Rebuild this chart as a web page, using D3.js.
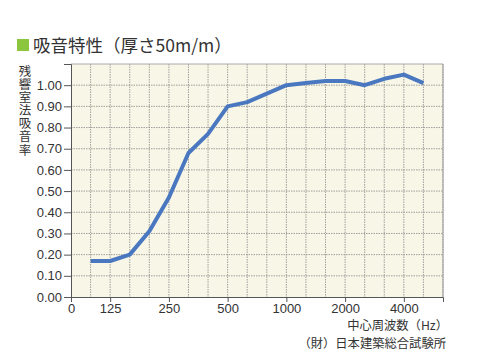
<!DOCTYPE html>
<html><head><meta charset="utf-8">
<script src="https://cdn.jsdelivr.net/npm/d3@7"></script>
<style>body{margin:0;background:#fff;}svg{display:block;}</style>
</head><body>
<svg id="c" width="482" height="356"></svg>
<script>
const titleText = "吸音特性（厚さ50m/m）";
const yAxisTitle = "残響室法吸音率";
const xAxisTitle = "中心周波数（Hz）";
const sourceText = "（財）日本建築総合試験所";
const axisBands = ["0","100","125","160","200","250","315","400","500","630","800","1000","1250","1600","2000","2500","3150","4000","5000","6300"];
const xTickLabels = ["0","125","250","500","1000","2000","4000"];
const yTicks = [0,0.1,0.2,0.3,0.4,0.5,0.6,0.7,0.8,0.9,1.0];
const freqs = ["100","125","160","200","250","315","400","500","630","800","1000","1250","1600","2000","2500","3150","4000","5000"];
const absorption = [0.17,0.17,0.20,0.31,0.47,0.68,0.77,0.90,0.92,0.96,1.00,1.01,1.02,1.02,1.00,1.03,1.05,1.01];

const svg = d3.select("#c");
const L=71, R=443, T=64, B=297;
const x = d3.scalePoint().domain(axisBands).range([L,R]);
const y = d3.scaleLinear().domain([0,1.1]).range([B,T]);
const numFont = "'Liberation Sans', Arial, sans-serif";
const jpFont = "'Noto Sans CJK JP', sans-serif";

// plot background
svg.append("rect").attr("x",L).attr("y",T).attr("width",R-L).attr("height",B-T).attr("fill","#f8f6e6");

// grid
const g = svg.append("g");
g.selectAll("line.v").data(axisBands.slice(1)).join("line")
  .attr("x1",d=>x(d)).attr("x2",d=>x(d)).attr("y1",T).attr("y2",B)
  .attr("stroke","#8a8a8a").attr("stroke-width",0.8).attr("stroke-dasharray","1.5,1");
g.selectAll("line.h").data(yTicks.slice(1)).join("line")
  .attr("x1",L).attr("x2",R).attr("y1",d=>y(d)).attr("y2",d=>y(d))
  .attr("stroke","#8a8a8a").attr("stroke-width",0.8).attr("stroke-dasharray","1.5,1");

// border top/right
svg.append("line").attr("x1",L).attr("x2",R).attr("y1",T).attr("y2",T).attr("stroke","#aaa").attr("stroke-width",1.2);
svg.append("line").attr("x1",R).attr("x2",R).attr("y1",T).attr("y2",B).attr("stroke","#999").attr("stroke-width",1);

// axes
const yAxis = d3.axisLeft(y).tickValues(yTicks).tickFormat(d3.format(".2f")).tickSize(7).tickPadding(2);
const ya = svg.append("g").attr("transform",`translate(${L},0)`).call(yAxis);
ya.select(".domain").attr("stroke","#555");
ya.selectAll(".tick line").attr("stroke","#555");
ya.selectAll("text").attr("font-family",numFont).attr("font-size",13).attr("fill","#333");

const xAxis = d3.axisBottom(x).tickValues(xTickLabels).tickSize(5).tickPadding(2);
const xa = svg.append("g").attr("transform",`translate(0,${B})`).call(xAxis);
xa.select(".domain").attr("stroke","#555");
xa.selectAll(".tick line").attr("stroke","#555");
xa.selectAll("text").attr("font-family",numFont).attr("font-size",13).attr("fill","#333");

// data line
const line = d3.line().x((d,i)=>x(freqs[i])).y(d=>y(d));
svg.append("path").datum(absorption).attr("d",line)
  .attr("fill","none").attr("stroke","#4a78c0").attr("stroke-width",4).attr("stroke-linejoin","round");

// title
svg.append("rect").attr("x",17).attr("y",39).attr("width",12).attr("height",12).attr("fill","#8cc63f");
svg.append("text").attr("x",33).attr("y",52).attr("font-family",jpFont).attr("font-size",17.5).attr("fill","#333").text(titleText);

// y axis title (vertical)
svg.append("text").attr("x",25).attr("y",65)
  .attr("writing-mode","vertical-rl").attr("letter-spacing",0.6)
  .attr("font-family",jpFont).attr("font-size",12.5).attr("fill","#333").text(yAxisTitle);

svg.append("text").attr("x",448).attr("y",330).attr("text-anchor","end")
  .attr("font-family",jpFont).attr("font-size",12.3).attr("fill","#333").text(xAxisTitle);
svg.append("text").attr("x",446).attr("y",348).attr("text-anchor","end")
  .attr("font-family",jpFont).attr("font-size",12.3).attr("fill","#333").text(sourceText);
</script>
</body></html>
